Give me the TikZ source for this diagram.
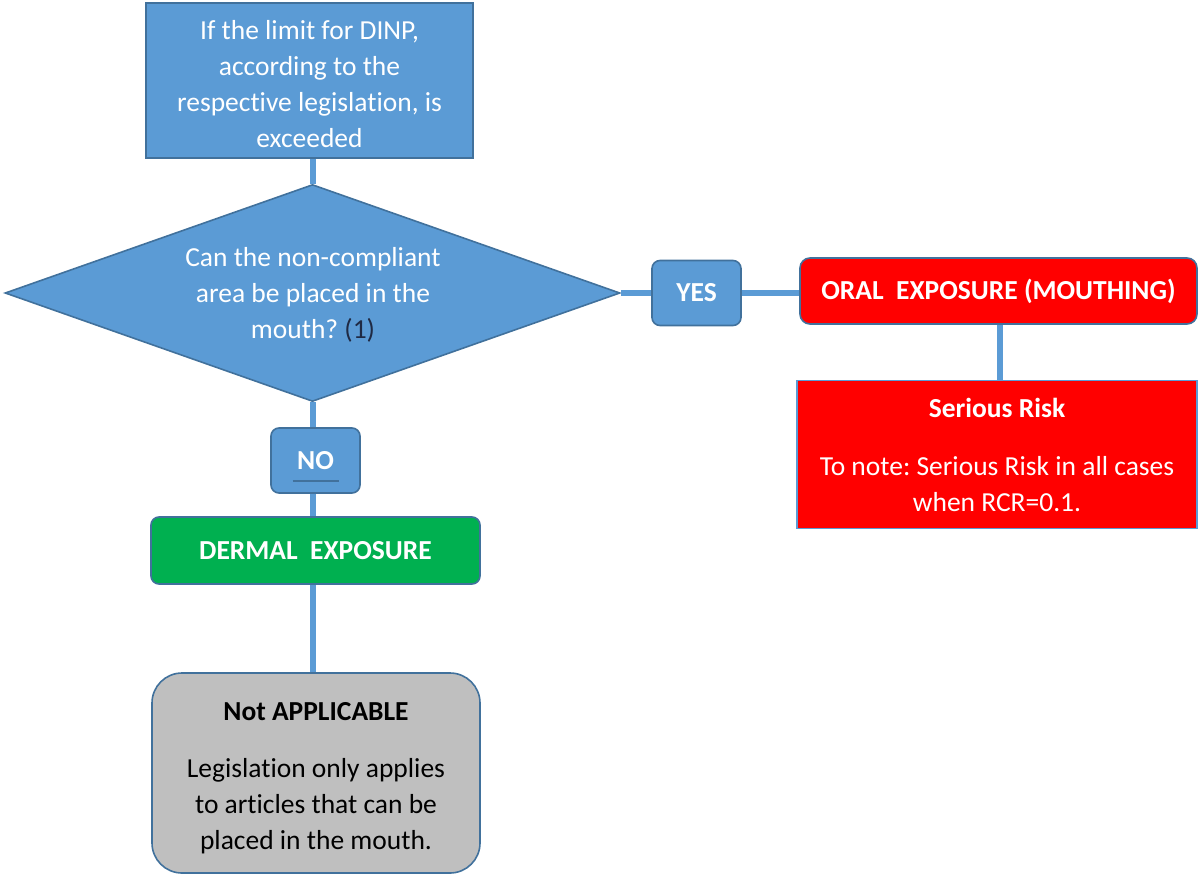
\documentclass[tikz,border=0pt]{standalone}
\usepackage{fontspec}
\setmainfont{Carlito}[Ligatures=NoCommon]
\usetikzlibrary{shapes.geometric}
\frenchspacing
\definecolor{bfill}{HTML}{5B9BD5}
\definecolor{bdraw}{HTML}{41719C}
\definecolor{rfill}{HTML}{FF0000}
\definecolor{gfill}{HTML}{00B050}
\definecolor{greyfill}{HTML}{BFBFBF}
\definecolor{navy}{HTML}{1F2A44}
\tikzset{
  base/.style={draw=bdraw, line width=1.6pt, inner sep=0pt, align=center,
    font=\fontsize{27.5}{36}\selectfont},
  bluebox/.style={base, fill=bfill, text=white},
  redbox/.style={base, fill=rfill, text=white},
  greenbox/.style={base, fill=gfill, text=white},
  greybox/.style={base, fill=greyfill, text=black},
  txt/.style={inner sep=0pt, align=center, font=\fontsize{27.5}{36}\selectfont},
  boldtxt/.style={font=\fontsize{27.5}{36}\selectfont\bfseries},
  conn/.style={draw=bfill, line width=6pt},
}
\begin{document}
\begin{tikzpicture}[x=1pt,y=-1pt]
\useasboundingbox (0,0) rectangle (1199,876);
\node[bluebox, minimum width=327pt, minimum height=155pt] (top) at (309.5,80.5) {};
\node[txt, text=white] (topt) at (309.5,84)
  {If the limit for DINP,\\according to the\\respective legislation, is\\exceeded};
\node[bluebox, shape=diamond, minimum width=615pt, minimum height=217pt] (dia) at (312.5,293) {};
\node[txt, text=white] (diat) at (313,295)
  {Can the non-compliant\\area be placed in the\\mouth? \textcolor{navy}{(1)}};
\node[bluebox, rounded corners=8pt, minimum width=89pt, minimum height=65pt, boldtxt] (yes) at (696.5,293) {YES};
\node[redbox, rounded corners=10pt, minimum width=397pt, minimum height=66pt, boldtxt] (oral) at (998.5,291) {ORAL\ \ EXPOSURE (MOUTHING)};
\node[redbox, draw=bfill, minimum width=400pt, minimum height=148pt] (risk) at (997,454.5)
  {\textbf{Serious Risk}\\[22pt]To note: Serious Risk in all cases\\when RCR=0.1.};
\node[bluebox, rounded corners=8pt, minimum width=89pt, minimum height=65pt, boldtxt] (no) at (315.5,460.5) {NO};
\node[greenbox, rounded corners=8pt, minimum width=329pt, minimum height=67pt, boldtxt] (derm) at (315.5,550.5) {DERMAL\ \ EXPOSURE};
\node[greybox, rounded corners=30pt, minimum width=328pt, minimum height=200pt] (na) at (316,773) {};
\node[txt, text=black] (nat) at (316,778)
  {\textbf{Not APPLICABLE}\\[21pt]Legislation only applies\\to articles that can be\\placed in the mouth.};
\draw[conn] (top.south -| dia.north) -- (dia.north);
\draw[conn] (dia.east) -- (dia.east -| yes.west);
\draw[conn] (yes.east |- dia.east) -- (oral.west |- dia.east);
\draw[conn] (oral.south -| 1000,0) -- (risk.north -| 1000,0);
\draw[conn] (dia.south) -- (no.north -| dia.south);
\draw[conn] (no.south -| dia.south) -- (derm.north -| dia.south);
\draw[conn] (derm.south -| dia.south) -- (na.north -| dia.south);
\draw[draw=bdraw, line width=1.5pt] ([xshift=-23pt,yshift=-20.5pt]no.center) -- ([xshift=23pt,yshift=-20.5pt]no.center);
\end{tikzpicture}
\end{document}
